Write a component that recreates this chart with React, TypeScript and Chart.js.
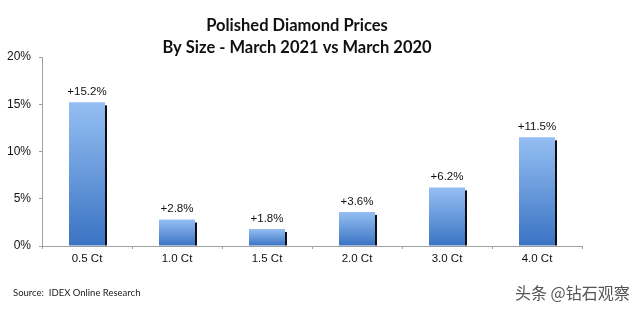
import React, { useEffect, useRef } from "react";
import { Chart, registerables } from "chart.js";

Chart.register(...registerables);

const categories = ["0.5 Ct", "1.0 Ct", "1.5 Ct", "2.0 Ct", "3.0 Ct", "4.0 Ct"];
const priceChange = [15.2, 2.8, 1.8, 3.6, 6.2, 11.5];
const yTicks = [0, 5, 10, 15, 20];
const titleLines = ["Polished Diamond Prices", "By Size - March 2021 vs March 2020"];
const sourceText = "Source:  IDEX Online Research";
const watermarkText = "头条 @钻石观察";

const LABEL_FONT = "'Liberation Sans', Arial, sans-serif";
const TITLE_FONT = "Lato, 'Open Sans', sans-serif";

const extrasPlugin = {
  id: "extras",
  afterDatasetsDraw(chart: any) {
    const ctx = chart.ctx;
    const meta = chart.getDatasetMeta(0);
    ctx.save();
    meta.data.forEach((el: any, i: number) => {
      const { x, y, base, width } = el.getProps(["x", "y", "base", "width"], true);
      // right-side drop shadow
      ctx.fillStyle = "#0d0d14";
      ctx.fillRect(x + width / 2, y + 3, 2, base - y - 3);
      // value label
      const v = priceChange[i];
      ctx.fillStyle = "#111";
      ctx.font = `11.5px ${LABEL_FONT}`;
      ctx.textAlign = "center";
      ctx.textBaseline = "middle";
      ctx.fillText(`+${v.toFixed(1)}%`, x, y - 10.5);
    });
    ctx.restore();
  },
  afterDraw(chart: any) {
    const ctx = chart.ctx;
    ctx.save();
    // title
    ctx.fillStyle = "#111";
    ctx.font = `bold 16.5px ${TITLE_FONT}`;
    ctx.textAlign = "center";
    ctx.textBaseline = "middle";
    ctx.fillText(titleLines[0], 297, 26);
    ctx.fillText(titleLines[1], 297, 47.5);
    // source
    ctx.font = `9.5px ${TITLE_FONT}`;
    ctx.textAlign = "left";
    ctx.fillStyle = "#222";
    ctx.fillText(sourceText, 13, 292.5);
    // watermark
    ctx.font = `16px 'Noto Sans CJK SC', sans-serif`;
    ctx.fillStyle = "#555";
    ctx.textAlign = "left";
    ctx.fillText(watermarkText, 515, 293);
    ctx.restore();
  },
};

export default function App() {
  const ref = useRef<HTMLCanvasElement | null>(null);
  useEffect(() => {
    if (!ref.current) return;
    const chart = new Chart(ref.current, {
      type: "bar",
      data: {
        labels: categories,
        datasets: [
          {
            data: priceChange,
            backgroundColor: (c: any) => {
              const ch = c.chart;
              const ys = ch.scales && ch.scales.y;
              if (!ys || c.type !== "data" || !c.parsed) return "#6a9be0";
              const top = ys.getPixelForValue(c.parsed.y);
              const base = ys.getPixelForValue(0);
              if (!isFinite(top) || !isFinite(base) || top === base) return "#6a9be0";
              const g = ch.ctx.createLinearGradient(0, top, 0, base);
              g.addColorStop(0, "#95bff3");
              g.addColorStop(1, "#3a73c3");
              return g;
            },
            borderWidth: 0,
            barPercentage: 0.4,
            categoryPercentage: 1,
          },
        ],
      },
      options: {
        animation: false,
        responsive: false,
        layout: { padding: { left: 0, right: 58, top: 57, bottom: 42 } },
        plugins: {
          legend: { display: false },
          title: { display: false },
          tooltip: { enabled: false },
        },
        scales: {
          x: {
            grid: { drawOnChartArea: false, drawTicks: true, tickLength: 3, color: "#a0a0a0" },
            border: { color: "#a0a0a0" },
            ticks: { color: "#111", font: { family: LABEL_FONT, size: 11.5 }, padding: 3 },
            afterFit: (s: any) => {
              s.height = 22;
            },
          },
          y: {
            min: 0,
            max: 20,
            afterBuildTicks: (s: any) => {
              s.ticks = yTicks.map((v) => ({ value: v }));
            },
            grid: { drawOnChartArea: false, drawTicks: true, tickLength: 3, color: "#a0a0a0" },
            border: { color: "#a0a0a0" },
            ticks: {
              color: "#111",
              font: { family: LABEL_FONT, size: 12 },
              padding: 8,
              callback: (v: any) => `${v}%`,
            },
            afterFit: (s: any) => {
              s.width = 42;
            },
          },
        },
      },
      plugins: [extrasPlugin],
    });
    return () => chart.destroy();
  }, []);
  return (
    <div style={{ position: "absolute", left: 0, top: 0, width: 640, height: 310, background: "#fff" }}>
      <canvas ref={ref} width={640} height={310} />
    </div>
  );
}
